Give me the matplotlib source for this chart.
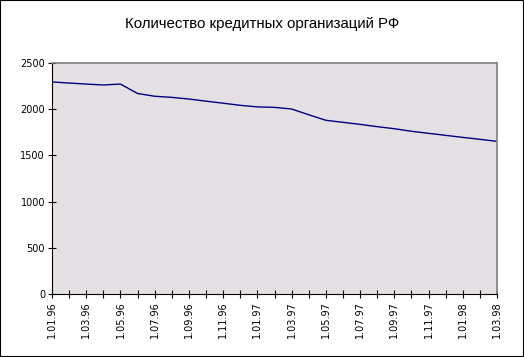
import matplotlib
matplotlib.use("Agg")
import matplotlib.pyplot as plt
from matplotlib.patches import Rectangle

title = "Количество кредитных организаций РФ"
months = ["1.01.96", "1.02.96", "1.03.96", "1.04.96", "1.05.96", "1.06.96", "1.07.96",
          "1.08.96", "1.09.96", "1.10.96", "1.11.96", "1.12.96", "1.01.97", "1.02.97",
          "1.03.97", "1.04.97", "1.05.97", "1.06.97", "1.07.97", "1.08.97", "1.09.97",
          "1.10.97", "1.11.97", "1.12.97", "1.01.98", "1.02.98", "1.03.98"]
counts = [2295, 2283, 2272, 2262, 2272, 2170, 2140, 2128, 2110, 2087, 2065, 2042, 2025,
          2020, 2002, 1940, 1880, 1858, 1836, 1811, 1789, 1761, 1739, 1717, 1695, 1674, 1652]
yticks = [0, 500, 1000, 1500, 2000, 2500]

W, H = 524, 357
fig = plt.figure(figsize=(W / 100, H / 100), dpi=100)
fig.patch.set_facecolor("white")
fig.patches.append(Rectangle((0, 0), 1, 1, transform=fig.transFigure, fill=False,
                             edgecolor="black", linewidth=1.5))

ax = fig.add_axes([52 / W, 1 - 294 / H, (497 - 52) / W, (294 - 63) / H])
ax.set_facecolor("#E4E0E4")
x = list(range(len(months)))
ax.plot(x, counts, color="#000080", linewidth=1.0)

ax.set_xlim(0, len(months) - 1)
ax.set_ylim(0, 2500)
ax.set_yticks(yticks)
ax.set_yticklabels([str(v) for v in yticks], fontsize=7, family="DejaVu Sans")
ax.set_xticks(x)
ax.set_xticklabels([m if i % 2 == 0 else "" for i, m in enumerate(months)],
                   rotation=90, fontsize=7, family="DejaVu Sans")
ax.tick_params(axis="both", direction="inout", length=6, width=0.8, color="black", pad=2)

for s in ("top", "right"):
    ax.spines[s].set_color("#808080")
    ax.spines[s].set_linewidth(1.2)
for s in ("left", "bottom"):
    ax.spines[s].set_color("black")
    ax.spines[s].set_linewidth(0.8)

fig.text(262 / W, 1 - 24 / H, title, ha="center", va="center", fontsize=10.8,
         family="Liberation Sans")

fig.savefig("out.png", dpi=100)
